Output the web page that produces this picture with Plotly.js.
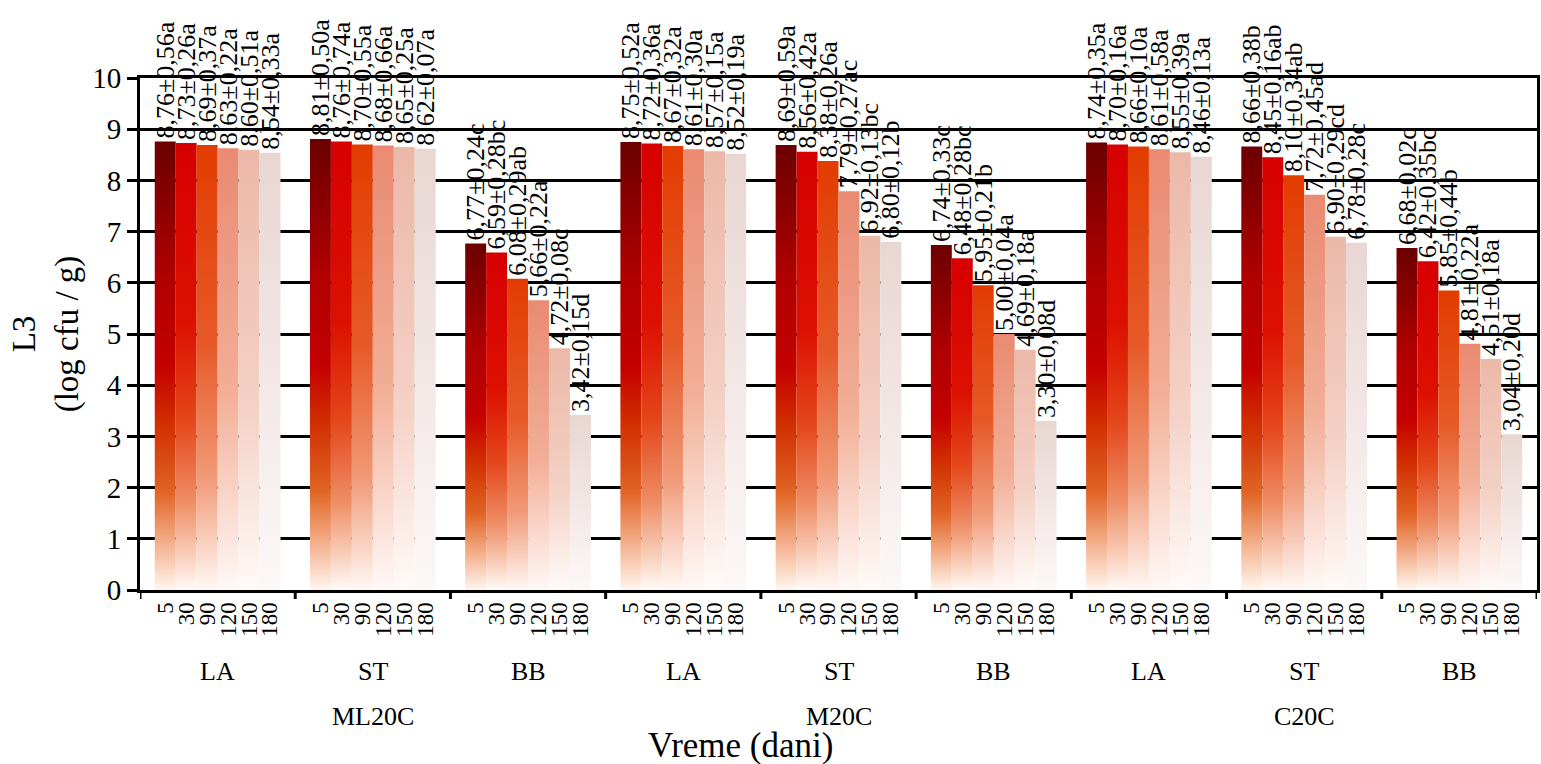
<!DOCTYPE html>
<html>
<head>
<meta charset="utf-8">
<script src="https://cdn.plot.ly/plotly-3.0.1.min.js"></script>
<style>
  html, body { margin: 0; padding: 0; background: #fff; }
  #chart { width: 1541px; height: 764px; }
</style>
</head>
<body>
<div id="chart"></div>
<script>
// ---- Data ----
const strains = ['LA', 'ST', 'BB', 'LA', 'ST', 'BB', 'LA', 'ST', 'BB'];
const conditions = ['ML20C', 'M20C', 'C20C'];
const days = ['5', '30', '90', '120', '150', '180'];

const day5   = [8.76, 8.81, 6.77, 8.75, 8.69, 6.74, 8.74, 8.66, 6.68];
const day30  = [8.73, 8.76, 6.59, 8.72, 8.56, 6.48, 8.70, 8.45, 6.42];
const day90  = [8.69, 8.70, 6.08, 8.67, 8.38, 5.95, 8.66, 8.10, 5.85];
const day120 = [8.63, 8.68, 5.66, 8.61, 7.79, 5.00, 8.61, 7.72, 4.81];
const day150 = [8.60, 8.65, 4.72, 8.57, 6.92, 4.69, 8.55, 6.90, 4.51];
const day180 = [8.54, 8.62, 3.42, 8.52, 6.80, 3.30, 8.46, 6.78, 3.04];

const sd5   = [0.56, 0.50, 0.24, 0.52, 0.59, 0.33, 0.35, 0.38, 0.02];
const sd30  = [0.26, 0.74, 0.28, 0.36, 0.42, 0.28, 0.16, 0.16, 0.35];
const sd90  = [0.37, 0.55, 0.29, 0.32, 0.26, 0.21, 0.10, 0.34, 0.44];
const sd120 = [0.22, 0.66, 0.22, 0.30, 0.27, 0.04, 0.58, 0.45, 0.22];
const sd150 = [0.51, 0.25, 0.08, 0.15, 0.13, 0.18, 0.39, 0.29, 0.18];
const sd180 = [0.33, 0.07, 0.15, 0.19, 0.12, 0.08, 0.13, 0.28, 0.20];

const let5   = ['a', 'a', 'c', 'a', 'a', 'c', 'a', 'b', 'c'];
const let30  = ['a', 'a', 'bc', 'a', 'a', 'bc', 'a', 'ab', 'bc'];
const let90  = ['a', 'a', 'ab', 'a', 'a', 'b', 'a', 'ab', 'b'];
const let120 = ['a', 'a', 'a', 'a', 'ac', 'a', 'a', 'ad', 'a'];
const let150 = ['a', 'a', 'c', 'a', 'bc', 'a', 'a', 'cd', 'a'];
const let180 = ['a', 'a', 'd', 'a', 'b', 'd', 'a', 'c', 'd'];

const yTicks = [0, 1, 2, 3, 4, 5, 6, 7, 8, 9, 10];

// ---- Styles ----
const FONT = 'Liberation Serif, Times New Roman, Times, serif';
const topColors = ['#6b0000', '#d60000', '#e23c00', '#ea8a72', '#ecb8a8', '#e8d6d2'];
const gradStops = [
  [[0, '#6b0000'], [0.3, '#b00000'], [0.5, '#c40000'], [0.62, '#d02c00'], [0.78, '#e06424'], [0.9, '#f4b290'], [1, '#fff6ee']],
  [[0, '#d60000'], [0.4, '#dc1000'], [0.62, '#e4461a'], [0.8, '#ee8c64'], [0.92, '#f8cdb8'], [1, '#fffaf6']],
  [[0, '#e23c00'], [0.45, '#e65a28'], [0.75, '#f09a78'], [1, '#fff8f4']],
  [[0, '#ea8a72'], [0.55, '#f2ae96'], [1, '#fff8f6']],
  [[0, '#ecb8a8'], [0.6, '#f4d2c6'], [1, '#fffaf8']],
  [[0, '#e8d6d2'], [1, '#fcf8f8']]
];
const bargap = 0.19;

// ---- Build traces ----
const means = [day5, day30, day90, day120, day150, day180];
const sds = [sd5, sd30, sd90, sd120, sd150, sd180];
const lets = [let5, let30, let90, let120, let150, let180];
const fmt = v => v.toFixed(2).replace('.', ',');
const xPos = strains.map((_, i) => i);
const labelFont = { family: FONT, size: 26, color: '#000' };

const traces = means.map((vals, k) => ({
  type: 'bar',
  x: xPos,
  y: vals,
  name: days[k],
  text: vals.map((v, j) => fmt(v) + '±' + fmt(sds[k][j]) + lets[k][j]),
  textposition: 'outside',
  textangle: -90,
  constraintext: 'none',
  cliponaxis: false,
  textfont: labelFont,
  outsidetextfont: labelFont,
  marker: { color: topColors[k], line: { width: 0 } },
  hoverinfo: 'skip'
}));

// day tick positions
const w = (1 - bargap) / days.length;
const tickvals = [], ticktext = [];
xPos.forEach(g => days.forEach((d, i) => {
  tickvals.push(g + (i - (days.length - 1) / 2) * w);
  ticktext.push(d);
}));

// separators under the axis
const shapes = [];
for (let b = 0; b <= strains.length; b++) {
  shapes.push({
    type: 'line', xref: 'x', yref: 'paper', ysizemode: 'pixel', yanchor: 0,
    x0: b - 0.5, x1: b - 0.5, y0: 0, y1: -9,
    line: { color: '#000', width: 3 }
  });
}

const annotations = [];
strains.forEach((s, i) => annotations.push({
  x: i, xref: 'x', y: 0, yref: 'paper', yshift: -81, yanchor: 'middle',
  text: s, showarrow: false, font: { family: FONT, size: 26, color: '#000' }
}));
conditions.forEach((c, i) => annotations.push({
  x: i * 3 + 1, xref: 'x', y: 0, yref: 'paper', yshift: -126, yanchor: 'middle',
  text: c, showarrow: false, font: { family: FONT, size: 26, color: '#000' }
}));
annotations.push({
  x: 0.43, xref: 'paper', y: 0, yref: 'paper', yshift: -155, yanchor: 'middle',
  text: 'Vreme (dani)', showarrow: false, font: { family: FONT, size: 35, color: '#000' }
});

const layout = {
  width: 1541, height: 764,
  margin: { l: 140, r: 4, t: 78, b: 174 },
  paper_bgcolor: '#fff', plot_bgcolor: '#fff',
  barmode: 'group', bargap: bargap, bargroupgap: 0,
  showlegend: false,
  font: { family: FONT, color: '#000' },
  xaxis: {
    range: [-0.5, strains.length - 0.5],
    tickmode: 'array', tickvals: tickvals, ticktext: ticktext,
    tickangle: -90, ticks: '', showgrid: false, zeroline: false,
    showline: true, linecolor: '#000', linewidth: 3, mirror: true,
    tickfont: { family: FONT, size: 23, color: '#000' }
  },
  yaxis: {
    range: [0, 10], tickmode: 'array', tickvals: yTicks,
    ticks: 'outside', ticklen: 10, tickwidth: 3, tickcolor: '#000',
    showgrid: true, gridcolor: '#000', gridwidth: 3, zeroline: false,
    showline: true, linecolor: '#000', linewidth: 3, mirror: true,
    tickfont: { family: FONT, size: 29, color: '#000' },
    title: { text: 'L3<br>(log cfu / g)', font: { family: FONT, size: 33, color: '#000' }, standoff: 4 }
  },
  shapes: shapes,
  annotations: annotations
};

function applyGradients(gd) {
  const NS = 'http://www.w3.org/2000/svg';
  const svg = gd.querySelector('svg.main-svg');
  let defs = svg.querySelector('defs');
  if (!defs) { defs = document.createElementNS(NS, 'defs'); svg.insertBefore(defs, svg.firstChild); }
  gradStops.forEach((stops, i) => {
    const lg = document.createElementNS(NS, 'linearGradient');
    lg.setAttribute('id', 'bargrad' + i);
    lg.setAttribute('x1', '0'); lg.setAttribute('y1', '0');
    lg.setAttribute('x2', '0'); lg.setAttribute('y2', '1');
    stops.forEach(([off, col]) => {
      const s = document.createElementNS(NS, 'stop');
      s.setAttribute('offset', off);
      s.setAttribute('stop-color', col);
      lg.appendChild(s);
    });
    defs.appendChild(lg);
  });
  gd.querySelectorAll('.barlayer .trace.bars').forEach((t, i) => {
    t.querySelectorAll('.point path').forEach(p => { p.style.fill = 'url(#bargrad' + i + ')'; });
  });
}

const gd = document.getElementById('chart');
Plotly.newPlot(gd, traces, layout, { staticPlot: true, displayModeBar: false }).then(applyGradients);
</script>
</body>
</html>
